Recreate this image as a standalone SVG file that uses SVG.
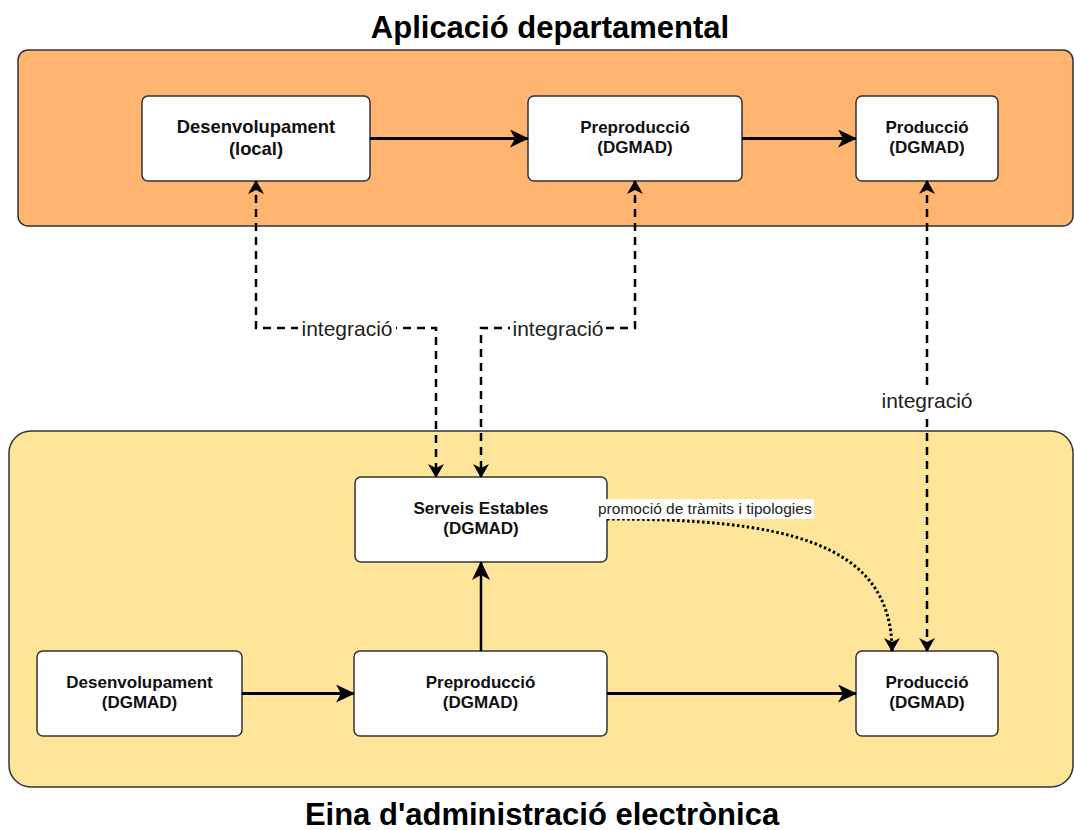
<svg xmlns="http://www.w3.org/2000/svg" width="1074" height="830" viewBox="0 0 1074 830">
<defs>
<style>
.title{font-family:"Liberation Sans",Arial,sans-serif;font-weight:bold;font-size:31px;fill:#000;text-anchor:middle}
.box{fill:#fff;stroke:#333;stroke-width:1.5}
.bt{font-family:"Liberation Sans",Arial,sans-serif;font-weight:bold;font-size:17px;fill:#111;text-anchor:middle}
.solid{fill:none;stroke:#000;stroke-width:3}
.dash{fill:none;stroke:#000;stroke-width:2.5;stroke-dasharray:8,6}
.dot{fill:none;stroke:#000;stroke-width:3;stroke-dasharray:2.5,2.5}
.lbl{font-family:"Liberation Sans",Arial,sans-serif;font-size:21px;fill:#222;text-anchor:middle}
.lblbg{fill:#fff}
</style>
<marker id="ah" viewBox="0 0 19 18" refX="18" refY="9" markerWidth="19" markerHeight="18" orient="auto-start-reverse" markerUnits="userSpaceOnUse"><path d="M0,0 L19,9 L0,18 L5,9 z" fill="#000"/></marker>
<marker id="ad" viewBox="0 0 14 16" refX="13" refY="8" markerWidth="14" markerHeight="16" orient="auto-start-reverse" markerUnits="userSpaceOnUse"><path d="M0,0 L14,8 L0,16 L4,8 z" fill="#000"/></marker>
</defs>
<rect width="1074" height="830" fill="#fff"/>

<g id="container-top">
<rect x="18" y="50" width="1055" height="176" rx="10" fill="#FFB570" stroke="#333" stroke-width="1.5"/>
<text class="title" x="550" y="38">Aplicació departamental</text>
</g>
<g id="container-bottom">
<rect x="9" y="431" width="1064" height="356" rx="22" fill="#FFE599" stroke="#333" stroke-width="1.5"/>
<text class="title" x="542" y="825">Eina d'administració electrònica</text>
</g>

<g id="n-desenv-local">
<rect class="box" x="142" y="96" width="228" height="85" rx="6"/>
<text class="bt" x="256" y="133" style="font-size:18.4px">Desenvolupament</text>
<text class="bt" x="256" y="155" style="font-size:18.4px">(local)</text>
</g>
<g id="n-prepro-top">
<rect class="box" x="528" y="96" width="214" height="85" rx="6"/>
<text class="bt" x="635" y="133">Preproducció</text>
<text class="bt" x="635" y="153">(DGMAD)</text>
</g>
<g id="n-prod-top">
<rect class="box" x="856" y="96" width="142" height="85" rx="6"/>
<text class="bt" x="927" y="133">Producció</text>
<text class="bt" x="927" y="153">(DGMAD)</text>
</g>
<g id="n-serveis">
<rect class="box" x="355" y="477" width="252" height="85" rx="6"/>
<text class="bt" x="481" y="514">Serveis Estables</text>
<text class="bt" x="481" y="534">(DGMAD)</text>
</g>
<g id="n-desenv-dgmad">
<rect class="box" x="37" y="651" width="205" height="85" rx="6"/>
<text class="bt" x="139.5" y="688">Desenvolupament</text>
<text class="bt" x="139.5" y="708">(DGMAD)</text>
</g>
<g id="n-prepro-bottom">
<rect class="box" x="354" y="651" width="253" height="85" rx="6"/>
<text class="bt" x="480.5" y="688">Preproducció</text>
<text class="bt" x="480.5" y="708">(DGMAD)</text>
</g>
<g id="n-prod-bottom">
<rect class="box" x="856" y="651" width="142" height="85" rx="6"/>
<text class="bt" x="927" y="688">Producció</text>
<text class="bt" x="927" y="708">(DGMAD)</text>
</g>

<g id="connectors">
<path class="solid" d="M370,138.5 L528,138.5" marker-end="url(#ah)"/>
<path class="solid" d="M742,138.5 L856,138.5" marker-end="url(#ah)"/>
<path class="solid" d="M242,693.5 L354,693.5" marker-end="url(#ah)"/>
<path class="solid" d="M607,693.5 L856,693.5" marker-end="url(#ah)"/>
<path class="solid" d="M481,651 L481,562" marker-end="url(#ah)" style="stroke-width:2.5"/>

<path class="dash" d="M256,181 L256,328 L436,328 L436,477" marker-start="url(#ad)" marker-end="url(#ad)"/>
<path class="dash" d="M635,181 L635,328 L481,328 L481,477" marker-start="url(#ad)" marker-end="url(#ad)"/>
<path class="dash" d="M927,181 L927,651" marker-start="url(#ad)" marker-end="url(#ad)"/>
<path class="dot" d="M607,519 C780,519 892,540 892,651" marker-end="url(#ad)"/>

<rect class="lblbg" x="298" y="317" width="98" height="24"/>
<text class="lbl" x="347" y="336">integració</text>
<rect class="lblbg" x="510" y="317" width="96" height="24"/>
<text class="lbl" x="558" y="336">integració</text>
<rect class="lblbg" x="878" y="389" width="98" height="24"/>
<text class="lbl" x="927" y="408">integració</text>
<rect class="lblbg" x="597" y="499" width="217" height="20"/>
<text x="598" y="514" style="font-family:'Liberation Sans',Arial,sans-serif;font-size:15.5px;fill:#222">promoció de tràmits i tipologies</text>
</g>
</svg>
